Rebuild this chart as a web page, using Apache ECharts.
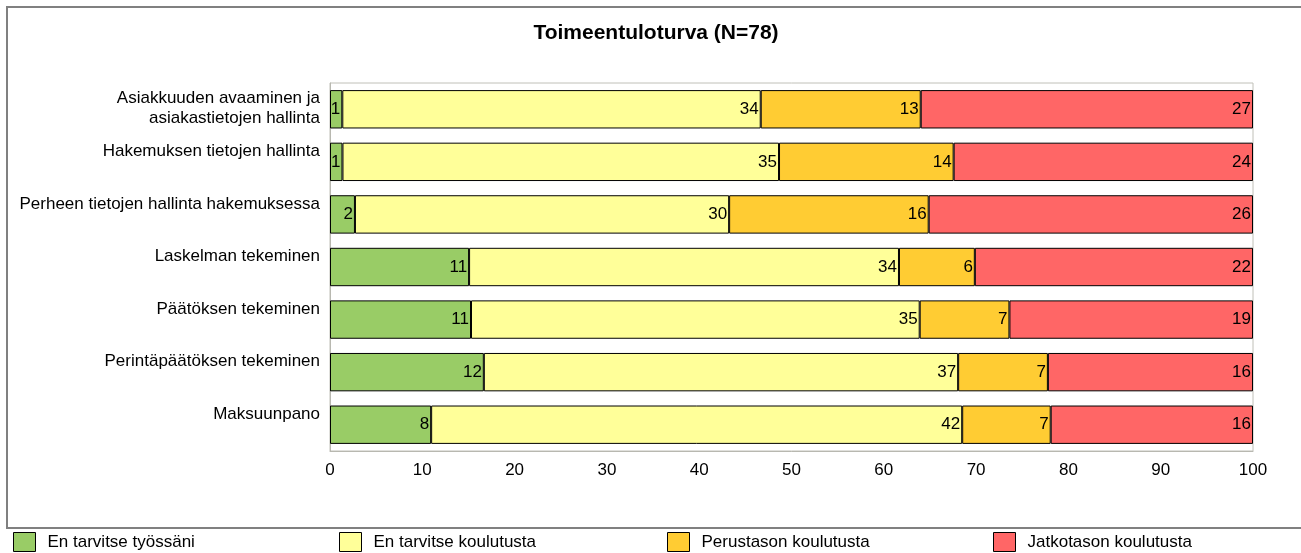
<!DOCTYPE html>
<html>
<head>
<meta charset="utf-8">
<script src="https://cdn.jsdelivr.net/npm/echarts@6/dist/echarts.min.js"></script>
<style>
html, body { margin: 0; padding: 0; background: #fff; }
#main { width: 1301px; height: 553px; }
</style>
</head>
<body>
<div id="main"></div>
<script>
// kategoriat ylhäältä alas
var categories = [
	'Asiakkuuden avaaminen ja\nasiakastietojen hallinta',
	'Hakemuksen tietojen hallinta',
	'Perheen tietojen hallinta hakemuksessa',
	'Laskelman tekeminen',
	'Päätöksen tekeminen',
	'Perintäpäätöksen tekeminen',
	'Maksuunpano'
];
var seriesNames = ['En tarvitse työssäni', 'En tarvitse koulutusta', 'Perustason koulutusta', 'Jatkotason koulutusta'];
// vastausten lukumäärät
var enTarvitseTyossani = [1, 1, 2, 11, 11, 12, 8];
var enTarvitseKoulutusta = [34, 35, 30, 34, 35, 37, 42];
var perustaso = [13, 14, 16, 6, 7, 7, 7];
var jatkotaso = [27, 24, 26, 22, 19, 16, 16];
var xTicks = [0, 10, 20, 30, 40, 50, 60, 70, 80, 90, 100];

var colors = ['#99CC66', '#FFFF99', '#FFCC33', '#FF6666'];
var counts = [enTarvitseTyossani, enTarvitseKoulutusta, perustaso, jatkotaso];
var font = 'Arial, Liberation Sans, sans-serif';

var myChart = echarts.init(document.getElementById('main'));

// rivien summat -> prosenttiosuudet
var totals = categories.map(function(c, i) {
	var s = 0;
	for (var k = 0; k < counts.length; k++) s += counts[k][i];
	return s;
});

var series = seriesNames.map(function(name, k) {
	return {
		name: name,
		type: 'bar',
		stack: 'all',
		barCategoryGap: '27%',
		itemStyle: { color: colors[k], borderColor: '#000', borderWidth: 1 },
		label: {
			show: true,
			position: 'insideRight',
			distance: 2,
			color: '#000',
			fontSize: 17,
			fontFamily: font,
			formatter: function(p) { return counts[k][p.dataIndex]; }
		},
		data: counts[k].map(function(v, i) { return v / totals[i] * 100; })
	};
});

var legendLeft = [13, 339, 667, 993];
var legends = seriesNames.map(function(name, k) {
	return {
		data: [name],
		left: legendLeft[k],
		top: 532,
		itemWidth: 22,
		itemHeight: 19,
		itemGap: 0,
		padding: 0,
		icon: 'rect',
		itemStyle: { borderColor: '#000', borderWidth: 1 },
		selectedMode: false,
		textStyle: { fontSize: 17, color: '#000', fontFamily: font, padding: [0, 0, 0, 7] }
	};
});

// otsikot ylälaitaan kuten Excelissä: tyhjä rivi perään
var labelRich = { t: { fontSize: 17, lineHeight: 20, color: '#000', fontFamily: font } };
categories.forEach(function(c) {
	var n = c.split('\n').length;
	labelRich['g' + n] = { fontSize: 1, lineHeight: Math.max(1, 42 - 21 * n) };
});

myChart.setOption({
	animation: false,
	title: {
		text: 'Toimeentuloturva (N=78)',
		left: 651,
		textAlign: 'center',
		top: 18,
		textStyle: { fontSize: 21, fontWeight: 'bold', color: '#000', fontFamily: font }
	},
	graphic: [{
		type: 'rect',
		shape: { x: 7, y: 7, width: 1320, height: 521 },
		style: { fill: null, stroke: '#808080', lineWidth: 2 },
		silent: true
	}],
	legend: legends,
	grid: {
		left: 330,
		right: 48,
		top: 83,
		bottom: 102,
		show: true,
		borderColor: '#C0C0B8',
		borderWidth: 1
	},
	xAxis: {
		type: 'value',
		min: 0,
		max: 100,
		interval: 10,
		splitLine: { show: false },
		axisLine: { show: true, lineStyle: { color: '#B8B8B0' } },
		axisTick: { show: false },
		axisLabel: {
			color: '#000',
			fontSize: 17,
			margin: 11,
			fontFamily: font,
			formatter: function(v) { return xTicks.indexOf(v) >= 0 ? v : ''; }
		}
	},
	yAxis: {
		type: 'category',
		inverse: true,
		axisLine: { show: true, lineStyle: { color: '#B8B8B0' } },
		axisTick: { show: false },
		axisLabel: {
			margin: 10,
			align: 'right',
			verticalAlign: 'middle',
			rich: labelRich,
			formatter: function(v) {
				var lines = v.split('\n');
				return lines.map(function(l) { return '{t|' + l + '}'; }).join('\n') + '\n{g' + lines.length + '| }';
			}
		},
		data: categories
	},
	series: series
});
</script>
</body>
</html>
